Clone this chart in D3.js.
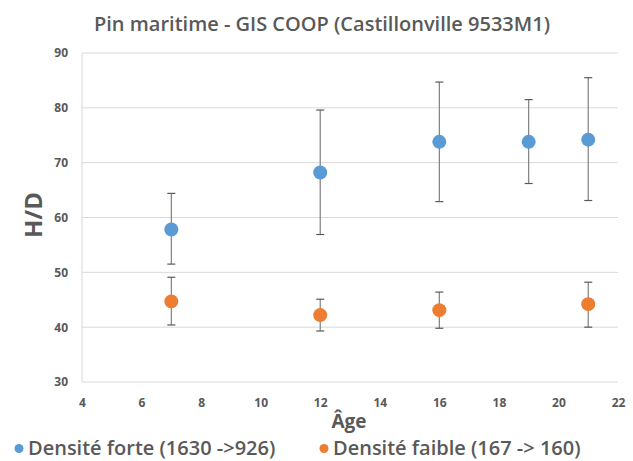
<!DOCTYPE html>
<html><head><meta charset="utf-8">
<script src="https://cdn.jsdelivr.net/npm/d3@7"></script>
<style>body{margin:0;background:#fff;} text{font-family:"Open Sans",sans-serif;}</style>
</head><body><svg id="c" width="633" height="461"></svg>
<script>
const ages = [7, 12, 16, 19, 21];
const forteMean = [57.8, 68.2, 73.8, 73.8, 74.2];
const forteHigh = [64.4, 79.6, 84.7, 81.5, 85.5];
const forteLow  = [51.5, 56.9, 62.9, 66.2, 63.1];
const faibleAges = [7, 12, 16, 21];
const faibleMean = [44.7, 42.2, 43.1, 44.2];
const faibleHigh = [49.1, 45.1, 46.4, 48.2];
const faibleLow  = [40.4, 39.3, 39.8, 40.0];
const xTicks = [4, 6, 8, 10, 12, 14, 16, 18, 20, 22];
const yTicks = [30, 40, 50, 60, 70, 80, 90];
const seriesNames = ["Densité forte (1630 ->926)", "Densité faible (167 -> 160)"];
const colors = ["#5B9BD5", "#ED7D31"];

const svg = d3.select("#c");
const x = d3.scaleLinear().domain([4, 22]).range([82, 618]);
const y = d3.scaleLinear().domain([30, 90]).range([382, 53]);
const txt = "#595959";

// gridlines
svg.append("g").selectAll("line").data(yTicks).join("line")
  .attr("x1", x(4)).attr("x2", x(22))
  .attr("y1", d => y(d)).attr("y2", d => y(d))
  .attr("stroke", "#d9d9d9").attr("stroke-width", 1);
svg.append("line").attr("x1", x(4)).attr("x2", x(4)).attr("y1", y(90)).attr("y2", y(30))
  .attr("stroke", "#d9d9d9");

// y axis
const ya = svg.append("g").attr("transform", `translate(${x(4)},0)`)
  .call(d3.axisLeft(y).tickValues(yTicks).tickSize(0).tickPadding(14));
ya.select(".domain").remove();
ya.selectAll("text").attr("fill", txt).attr("font-size", 12).attr("font-weight", 700)
  .style("font-family", "Open Sans");

// x axis
const xa = svg.append("g").attr("transform", `translate(0,${y(30)})`)
  .call(d3.axisBottom(x).tickValues(xTicks).tickSize(0).tickPadding(16));
xa.select(".domain").remove();
xa.selectAll("text").attr("fill", txt).attr("font-size", 12).attr("font-weight", 700)
  .style("font-family", "Open Sans");

// error bars & points
function drawSeries(xs, m, hi, lo, col) {
  const g = svg.append("g");
  const data = xs.map((a, i) => ({a, m: m[i], hi: hi[i], lo: lo[i]}));
  g.selectAll(".v").data(data).join("line")
    .attr("x1", d => x(d.a)).attr("x2", d => x(d.a))
    .attr("y1", d => y(d.hi)).attr("y2", d => y(d.lo))
    .attr("stroke", "#7f7f7f").attr("stroke-width", 1.2);
  ["hi", "lo"].forEach(k => {
    g.selectAll(".c" + k).data(data).join("line")
      .attr("x1", d => x(d.a) - 4).attr("x2", d => x(d.a) + 4)
      .attr("y1", d => y(d[k])).attr("y2", d => y(d[k]))
      .attr("stroke", "#595959").attr("stroke-width", 1.2);
  });
  g.selectAll("circle").data(data).join("circle")
    .attr("cx", d => x(d.a)).attr("cy", d => y(d.m)).attr("r", 7)
    .attr("fill", col);
}
drawSeries(ages, forteMean, forteHigh, forteLow, colors[0]);
drawSeries(faibleAges, faibleMean, faibleHigh, faibleLow, colors[1]);

// title
svg.append("text").attr("x", 322).attr("y", 31).attr("text-anchor", "middle")
  .attr("font-size", 20).attr("font-weight", 600).attr("fill", txt)
  .text("Pin maritime - GIS COOP (Castillonville 9533M1)");

// axis titles
svg.append("text").attr("transform", "translate(42,215) rotate(-90)").attr("text-anchor", "middle")
  .attr("font-size", 24).attr("font-weight", 700).attr("fill", txt).text("H/D");
svg.append("text").attr("x", 349).attr("y", 428).attr("text-anchor", "middle")
  .attr("font-size", 19).attr("font-weight", 700).attr("fill", txt).text("Âge");

// legend
const legX = [19, 324];
seriesNames.forEach((n, i) => {
  svg.append("circle").attr("cx", legX[i]).attr("cy", 448.5).attr("r", 4.5).attr("fill", colors[i]);
  svg.append("text").attr("x", legX[i] + 9).attr("y", 455).attr("font-size", 20)
    .attr("font-weight", 600).attr("fill", txt).text(n);
});
</script></body></html>
